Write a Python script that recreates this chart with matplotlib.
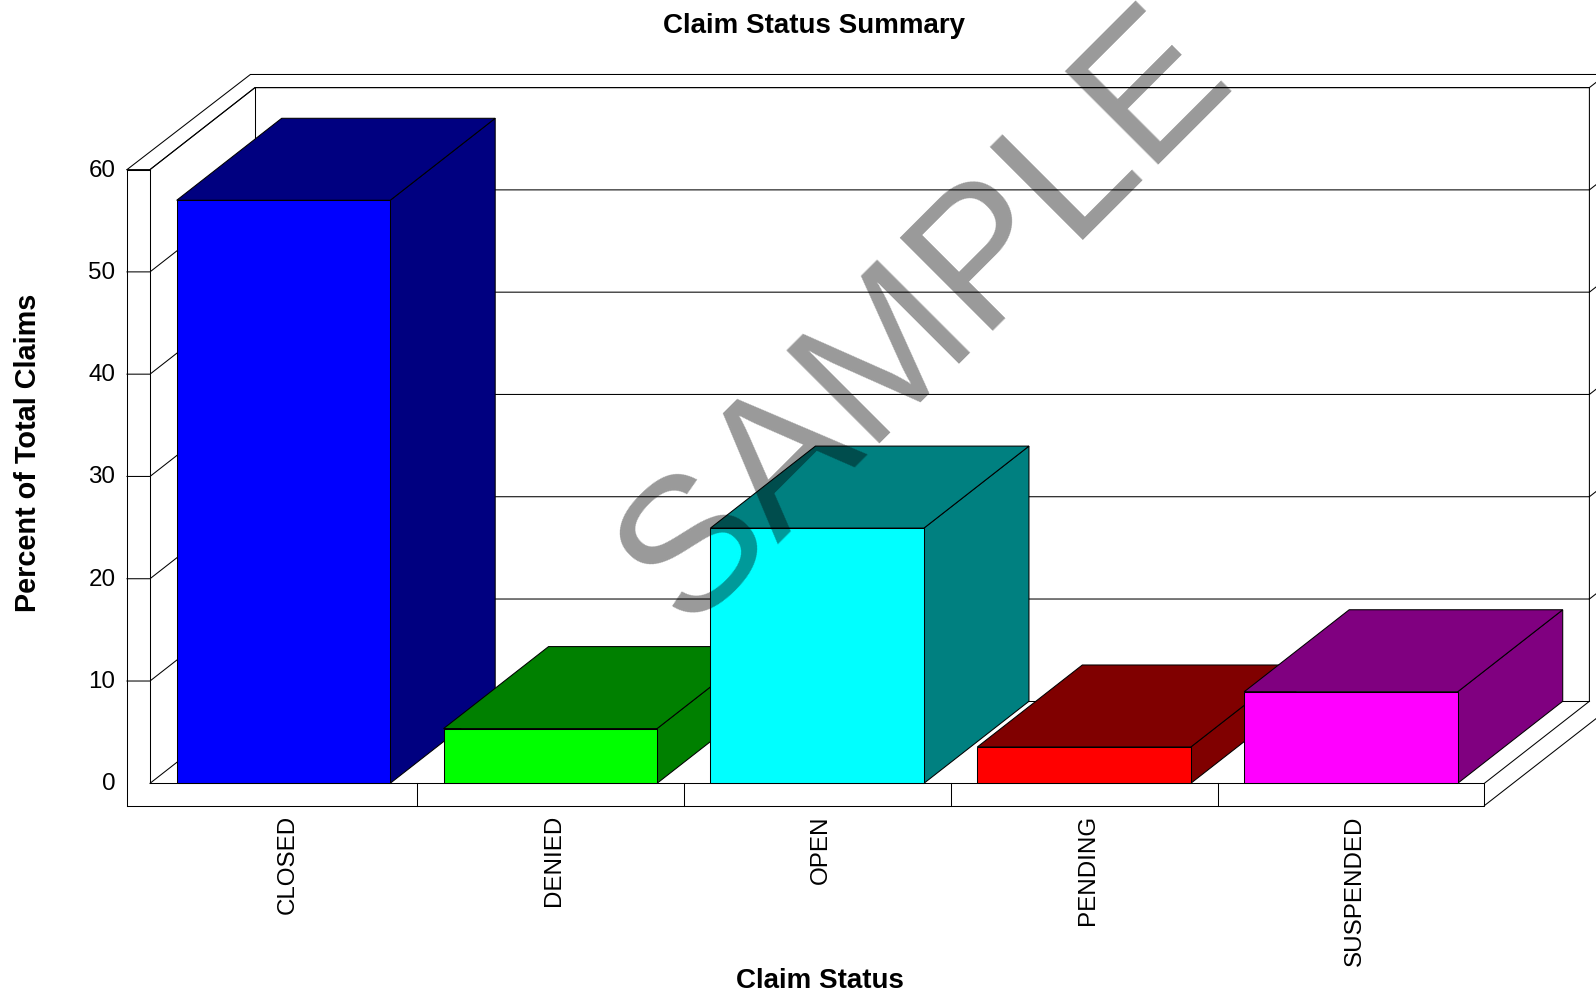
import matplotlib
matplotlib.use("Agg")
import matplotlib.pyplot as plt
from matplotlib.transforms import ScaledTranslation
import numpy as np

plt.rcParams['font.family'] = ['Liberation Sans', 'DejaVu Sans']

# Claim status shares, in percent of total claims
statuses = ["CLOSED", "DENIED", "OPEN", "PENDING", "SUSPENDED"]
percent = [57.0, 5.35, 24.95, 3.55, 8.95]
y_ticks = [0, 10, 20, 30, 40, 50, 60]
face_colors = ["#0000FF", "#00FF00", "#00FFFF", "#FF0000", "#FF00FF"]
side_colors = ["#000080", "#008000", "#008080", "#800000", "#800080"]

W, H = 1596, 994
DPI = 100
LW = 0.75

fig = plt.figure(figsize=(W / DPI, H / DPI), dpi=DPI, facecolor="white")

# Front plane of the pseudo-3D box, in figure pixels
left, right, zero, top = 150.0, 1484.4, 783.3, 169.6
ax = fig.add_axes([left / W, 1 - zero / H, (right - left) / W, (zero - top) / H])
ax.set_xlim(0, len(statuses))
ax.set_ylim(0, 60)
ax.patch.set_visible(False)
for s in ax.spines.values():
    s.set_visible(False)

px_x = len(statuses) / (right - left)   # categories per pixel
px_y = 60 / (zero - top)                # percent per pixel

# Depth of the box and thickness of its outer wall
dx, dy = 105 * px_x, 82 * px_y
wall_x, wall_y = 23 * px_x, 22.3 * px_y
outer_dx, outer_top = 100.4 * px_x, 69.3
x_end = len(statuses)
far = (1620 - left) * px_x              # runs off the right edge of the figure
slope = dy / dx


def line(xs, ys, z=1):
    ax.plot(xs, ys, color="black", lw=LW, clip_on=False, zorder=z,
            solid_capstyle="projecting", solid_joinstyle="miter")


# Left wall, floor and outer frame
line([-wall_x, -wall_x], [60, -wall_y])
line([0, 0], [60, 0])
line([-wall_x, 0], [60, 60])
line([-wall_x, x_end, x_end, 0], [-wall_y, -wall_y, 0, 0])
line([x_end, x_end + dx], [0, dy])
line([x_end, far], [-wall_y, -wall_y + (far - x_end) * (86.7 * px_y) / (111.3 * px_x)])
line([-wall_x, outer_dx, far], [60, outer_top, outer_top])
line([0, dx, x_end + dx, x_end + dx], [60, 60 + dy, 60 + dy, dy])
line([dx, dx], [60 + dy, dy])
line([dx, x_end + dx], [dy, dy])
line([0, dx], [0, dy])

# Category dividers on the floor
for i in range(1, len(statuses)):
    line([i, i], [-wall_y, 0])

# Gridlines on the walls
for t in y_ticks[1:]:
    line([-wall_x, 0, dx, x_end + dx], [t, t, t + dy, t + dy])
    line([x_end + dx, far], [t + dy, t + dy + (far - x_end - dx) * slope])

# Bars, painted left to right so that later ones sit in front
centers = np.arange(len(statuses)) + 0.5
bar_w = 0.8
for i, (c, v) in enumerate(zip(centers, percent)):
    z = 3 + i
    x0, x1 = c - bar_w / 2, c + bar_w / 2
    ax.fill([x1, x1 + dx, x1 + dx, x1], [0, dy, v + dy, v],
            facecolor=side_colors[i], edgecolor="black", lw=LW, clip_on=False, zorder=z)
    ax.fill([x0, x0 + dx, x1 + dx, x1], [v, v + dy, v + dy, v],
            facecolor=side_colors[i], edgecolor="black", lw=LW, clip_on=False, zorder=z)
    ax.bar(c, v, width=bar_w, color=face_colors[i], edgecolor="black", lw=LW,
           clip_on=False, zorder=z)

# Axis tick labels
ax.set_xticks(centers)
ax.set_xticklabels(statuses, rotation=90, fontsize=17.4, ha="center", va="top")
ax.set_yticks(y_ticks)
ax.set_yticklabels([str(t) for t in y_ticks], fontsize=17.4)
ax.tick_params(axis="x", length=0, pad=23)
ax.tick_params(axis="y", length=0, pad=25)
for lbl in ax.get_xticklabels():
    lbl.set_transform(lbl.get_transform() + ScaledTranslation(4.0 / DPI, 0, fig.dpi_scale_trans))
for lbl in ax.get_yticklabels():
    lbl.set_transform(lbl.get_transform() + ScaledTranslation(0, 1.5 / DPI, fig.dpi_scale_trans))

# Titles
fig.text(814 / W, 1 - 26 / H, "Claim Status Summary", fontsize=20, fontweight="bold",
         ha="center", va="center")
fig.text(820 / W, 1 - 981 / H, "Claim Status", fontsize=20, fontweight="bold",
         ha="center", va="center")
fig.text(28.5 / W, 1 - 453 / H, "Percent of Total Claims", fontsize=20.8, fontweight="bold",
         rotation=90, ha="center", va="center")

# Diagonal watermark
fig.text(926 / W, 1 - 319 / H, "SAMPLE", fontsize=138, color="black", alpha=0.4,
         rotation=45, rotation_mode="anchor", ha="center", va="center", zorder=20)

fig.savefig("out.png", dpi=DPI)
